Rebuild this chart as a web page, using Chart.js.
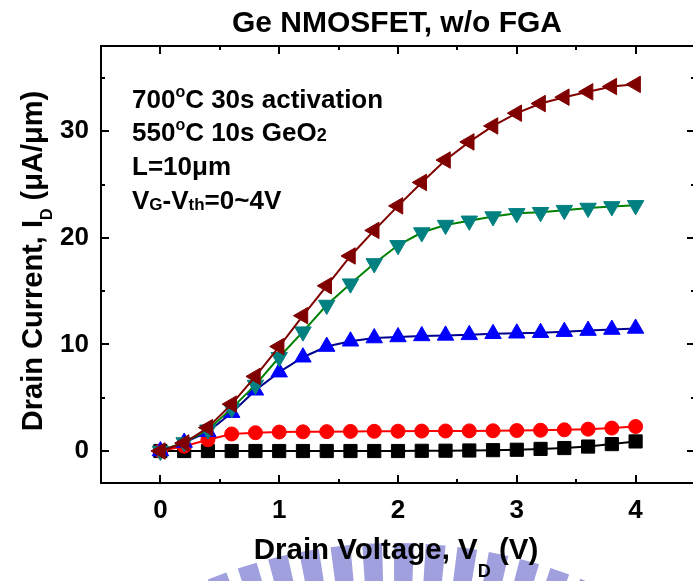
<!DOCTYPE html>
<html>
<head>
<meta charset="utf-8">
<script src="https://cdn.jsdelivr.net/npm/chart.js@4"></script>
<style>
  html, body { margin: 0; padding: 0; background: #fff; overflow: hidden; }
  canvas { display: block; }
</style>
</head>
<body>
<canvas id="c" width="700" height="581" style="width:700px;height:581px"></canvas>
<script>
// Drain voltage sweep (V)
const drainVoltage = [0, 0.2, 0.4, 0.6, 0.8, 1.0, 1.2, 1.4, 1.6, 1.8, 2.0,
                      2.2, 2.4, 2.6, 2.8, 3.0, 3.2, 3.4, 3.6, 3.8, 4.0];

// Drain current (uA/um) for each gate overdrive VG-Vth
const idVg0 = [0, 0, 0, 0, 0, 0, 0, 0, 0, 0, 0,
               0.02, 0.03, 0.05, 0.08, 0.12, 0.2, 0.28, 0.42, 0.65, 0.9];
const idVg1 = [0, 0.45, 1.05, 1.6, 1.72, 1.78, 1.8, 1.82, 1.84, 1.85, 1.86,
               1.87, 1.88, 1.89, 1.9, 1.92, 1.95, 1.99, 2.05, 2.15, 2.3];
const idVg2 = [0, 0.8, 1.8, 3.6, 5.7, 7.4, 8.8, 9.8, 10.3, 10.6, 10.7,
               10.8, 10.85, 10.9, 11.0, 11.05, 11.1, 11.2, 11.3, 11.4, 11.5];
const idVg3 = [0, 0.8, 2.0, 4.0, 6.2, 8.8, 11.2, 13.7, 15.7, 17.6, 19.3,
               20.5, 21.2, 21.6, 22.0, 22.3, 22.4, 22.6, 22.8, 22.95, 23.05];
const idVg4 = [0, 0.75, 2.2, 4.4, 7.0, 9.8, 12.7, 15.5, 18.3, 20.7, 23.0,
               25.2, 27.3, 29.0, 30.5, 31.7, 32.6, 33.2, 33.7, 34.2, 34.4];

// Axis ticks
const xMajorTicks = [0, 1, 2, 3, 4];
const xMinorTicks = [0.5, 1.5, 2.5, 3.5];
const yMajorTicks = [0, 10, 20, 30];
const yMinorTicks = [5, 15, 25, 35];

const FONT = '"Liberation Sans", Arial, Helvetica, sans-serif';

function pts(ys) { return drainVoltage.map((x, i) => ({ x: x, y: ys[i] })); }

function series(data, line, fill, shape, rot, radius) {
  return {
    data: pts(data),
    borderColor: line,
    backgroundColor: fill,
    pointBackgroundColor: fill,
    pointBorderColor: fill,
    pointBorderWidth: 1,
    pointStyle: shape,
    pointRotation: rot,
    pointRadius: radius,
    pointHoverRadius: radius,
    borderWidth: 2,
    tension: 0,
    fill: false
  };
}

// Draw a run of text pieces (size, vertical offset) starting at x on baseline y
function runWidth(ctx, runs) {
  let w = 0;
  for (const r of runs) { ctx.font = 'bold ' + r.s + 'px ' + FONT; w += ctx.measureText(r.t).width; }
  return w;
}
function drawRuns(ctx, runs, x, y) {
  ctx.textBaseline = 'alphabetic';
  ctx.textAlign = 'left';
  for (const r of runs) {
    ctx.font = 'bold ' + r.s + 'px ' + FONT;
    ctx.fillText(r.t, x, y + (r.dy || 0));
    x += ctx.measureText(r.t).width;
  }
}

// Faint seal printed across the bottom of the page
const sealPlugin = {
  id: 'seal',
  beforeDraw(chart) {
    const ctx = chart.ctx;
    ctx.save();
    ctx.fillStyle = 'rgb(160,160,222)';
    const cx = 395, cy = 1040, r1 = 455, r2 = 497;
    const step = 0.064, bar = 0.04;
    for (let a = -Math.PI / 2 - 0.45; a < -Math.PI / 2 + 0.45; a += step) {
      ctx.beginPath();
      ctx.arc(cx, cy, r2, a, a + bar);
      ctx.arc(cx, cy, r1, a + bar, a, true);
      ctx.closePath();
      ctx.fill();
    }
    ctx.restore();
  }
};

// Frame, inward ticks and all text labels
const decorPlugin = {
  id: 'decor',
  afterDatasetsDraw(chart) {
    const ctx = chart.ctx;
    const a = chart.chartArea;
    const xs = chart.scales.x, ys = chart.scales.y;
    ctx.save();
    ctx.strokeStyle = '#000';
    ctx.lineWidth = 2;
    ctx.strokeRect(a.left, a.top, a.right - a.left, a.bottom - a.top);
    ctx.beginPath();
    const tick = (v, len, isX) => {
      if (isX) {
        const p = Math.round(xs.getPixelForValue(v));
        ctx.moveTo(p, a.bottom); ctx.lineTo(p, a.bottom - len);
        ctx.moveTo(p, a.top); ctx.lineTo(p, a.top + len);
      } else {
        const p = Math.round(ys.getPixelForValue(v));
        ctx.moveTo(a.left, p); ctx.lineTo(a.left + len, p);
        ctx.moveTo(a.right, p); ctx.lineTo(a.right - len, p);
      }
    };
    xMajorTicks.forEach(v => tick(v, 8, true));
    xMinorTicks.forEach(v => tick(v, 4, true));
    yMajorTicks.forEach(v => tick(v, 8, false));
    yMinorTicks.forEach(v => tick(v, 4, false));
    ctx.stroke();

    ctx.fillStyle = '#000';

    // Title
    const title = [{ t: 'Ge NMOSFET, w/o FGA', s: 30 }];
    drawRuns(ctx, title, 397 - runWidth(ctx, title) / 2, 32);

    // X axis title
    const xt = [{ t: 'Drain Voltage, V', s: 29.5 }, { t: 'D', s: 18, dy: 18 }, { t: ' (V)', s: 29.5 }];
    drawRuns(ctx, xt, 396 - runWidth(ctx, xt) / 2, 559);

    // Y axis title (rotated)
    const yt = [{ t: 'Drain Current, I', s: 29 }, { t: 'D', s: 16, dy: 10 }, { t: ' (\u03bcA/\u03bcm)', s: 29 }];
    ctx.save();
    ctx.translate(42, 261);
    ctx.rotate(-Math.PI / 2);
    drawRuns(ctx, yt, -runWidth(ctx, yt) / 2, 0);
    ctx.restore();

    // Process conditions
    const L = 132;
    drawRuns(ctx, [{ t: '700', s: 26 }, { t: 'o', s: 16, dy: -11 }, { t: 'C 30s activation', s: 26 }], L, 108);
    drawRuns(ctx, [{ t: '550', s: 26 }, { t: 'o', s: 16, dy: -11 }, { t: 'C 10s GeO', s: 26 }, { t: '2', s: 18 }], L, 141);
    drawRuns(ctx, [{ t: 'L=10\u03bcm', s: 26 }], L, 175);
    drawRuns(ctx, [{ t: 'V', s: 26 }, { t: 'G', s: 17, dy: 1 }, { t: '-V', s: 26 }, { t: 'th', s: 17, dy: 1 }, { t: '=0~4V', s: 26 }], L, 209);
    ctx.restore();
  }
};

new Chart(document.getElementById('c'), {
  type: 'line',
  data: {
    datasets: [
      series(idVg4, '#800000', '#800000', 'triangle', -90, 9.5),
      series(idVg3, '#008000', '#008080', 'triangle', 180, 9.5),
      series(idVg2, '#000090', '#0000ff', 'triangle', 0, 9.5),
      series(idVg1, '#ff0000', '#ff0000', 'circle', 0, 7),
      series(idVg0, '#000000', '#000000', 'rect', 0, 9.3)
    ]
  },
  options: {
    responsive: false,
    animation: false,
    events: [],
    layout: { autoPadding: false, padding: { top: 46, right: 5, left: 0, bottom: 0 } },
    plugins: { legend: { display: false }, tooltip: { enabled: false }, title: { display: false } },
    scales: {
      x: {
        type: 'linear',
        min: -0.5,
        max: 4.5,
        afterBuildTicks: s => { s.ticks = xMajorTicks.map(v => ({ value: v })); },
        afterFit: s => { s.height = 98; },
        grid: { display: false, drawTicks: false },
        border: { display: false },
        ticks: { color: '#000', padding: 12, font: { family: FONT, size: 26, weight: 'bold' } }
      },
      y: {
        type: 'linear',
        min: -3,
        max: 38,
        afterBuildTicks: s => { s.ticks = yMajorTicks.map(v => ({ value: v })); },
        afterFit: s => { s.width = 101; },
        grid: { display: false, drawTicks: false },
        border: { display: false },
        ticks: { color: '#000', padding: 12, font: { family: FONT, size: 26, weight: 'bold' } }
      }
    }
  },
  plugins: [sealPlugin, decorPlugin]
});
</script>
</body>
</html>
